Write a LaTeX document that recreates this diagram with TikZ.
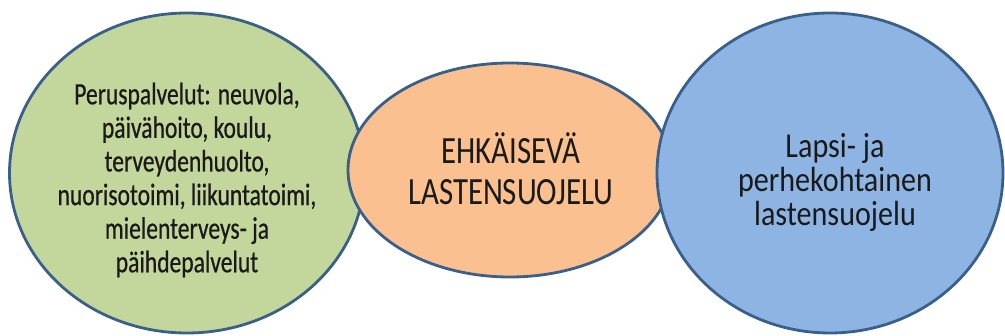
\documentclass[tikz,border=0pt]{standalone}
\usepackage{fontspec}
\setmainfont{Carlito}[FakeStretch=0.78]
\newfontfamily\gfont{Carlito}[FakeStretch=0.76,FakeBold=0.6]
\newfontfamily\ofont{Carlito}[FakeStretch=0.8]
\newfontfamily\bfont{Carlito}[FakeStretch=0.86]
\usetikzlibrary{shapes.geometric}
\definecolor{gfill}{HTML}{C3D69B}
\definecolor{ofill}{HTML}{FAC090}
\definecolor{bfill}{HTML}{8EB4E3}
\definecolor{edge}{HTML}{3A5F8B}
\definecolor{txt}{HTML}{1A1A1A}
\begin{document}
\begin{tikzpicture}[x=1pt,y=-1pt,
  blob/.style={ellipse, draw=edge, line width=2.8pt, inner sep=0pt},
  lbl/.style={align=center, text=txt, inner sep=0pt}]
\useasboundingbox (0,0) rectangle (1005,336);
\node[blob, fill=gfill, minimum width=355pt, minimum height=320pt] (g) at (187,173) {};
\node[blob, fill=ofill, minimum width=324pt, minimum height=214pt] (o) at (510,170) {};
\node[blob, fill=bfill, minimum width=346pt, minimum height=320pt] (b) at (830,173) {};
\node[lbl, font=\gfont\fontsize{31}{33.6}\selectfont] (gt) at (187,180)
  {Peruspalvelut: neuvola,\\ päivähoito, koulu,\\ terveydenhuolto,\\ nuorisotoimi, liikuntatoimi,\\ mielenterveys- ja\\ päihdepalvelut};
\node[lbl, font=\ofont\fontsize{38.5}{41}\selectfont] (ot) at (511,169)
  {EHKÄISEVÄ\\ LASTENSUOJELU};
\node[lbl, font=\bfont\fontsize{35}{34}\selectfont] (bt) at (835,182)
  {Lapsi- ja\\ perhekohtainen\\ lastensuojelu};
\end{tikzpicture}
\end{document}
